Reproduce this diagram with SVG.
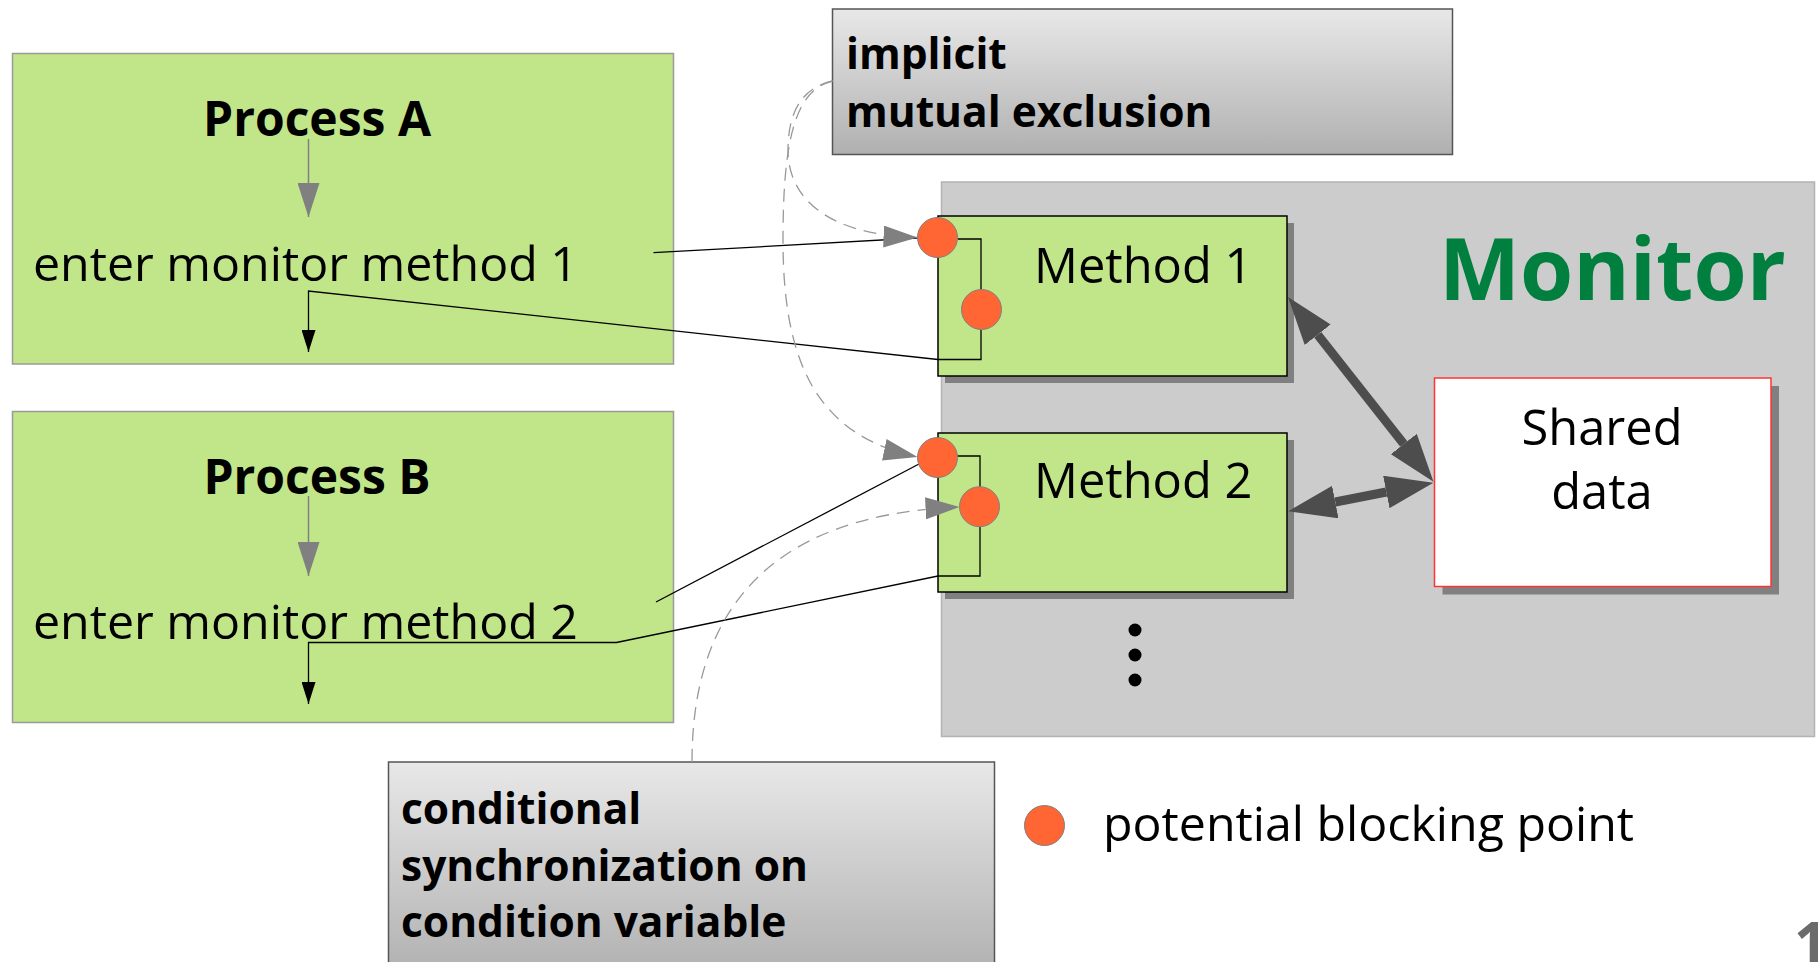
<svg xmlns="http://www.w3.org/2000/svg" width="1818" height="962" viewBox="0 0 1818 962">
<defs>
<style>
.proc{fill:#c1e589;stroke:#9a9a9a;stroke-width:1.5}
.meth{fill:#c1e589;stroke:#000;stroke-width:1.5}
.shadow{fill:#808080}
.note{fill:url(#noteGrad);stroke:#555;stroke-width:1.5}
.t{font-family:"Open Sans","Noto Sans","DejaVu Sans",sans-serif;fill:#000}
.big{font-size:48.3px}
.mt{font-size:48.8px}
.pt{font-size:48px;font-weight:bold}
.bold{font-weight:bold}
.nt{font-size:42.5px;font-weight:bold}
.bp{fill:#ff6633;stroke:#808080;stroke-width:1}
.thin{fill:none;stroke:#000;stroke-width:1.3}
.dash{fill:none;stroke:#999;stroke-width:1.3;stroke-dasharray:13 8}
.gray{fill:none;stroke:#808080;stroke-width:1.5}
.thick{fill:none;stroke:#4d4d4d;stroke-width:9}
</style>
<linearGradient id="noteGrad" x1="0" y1="0" x2="0" y2="1">
<stop offset="0" stop-color="#e8e8e8"/>
<stop offset="1" stop-color="#b0b0b0"/>
</linearGradient>
<marker id="grayHead" markerUnits="userSpaceOnUse" markerWidth="34" markerHeight="22" viewBox="0 0 34 22" refX="34" refY="11" orient="auto">
<path d="M0,0 L34,11 L0,22 z" fill="#808080"/>
</marker>
<marker id="blackHead" markerUnits="userSpaceOnUse" markerWidth="22" markerHeight="14" viewBox="0 0 22 14" refX="22" refY="7" orient="auto">
<path d="M0,0 L22,7 L0,14 z" fill="#000"/>
</marker>
<marker id="thickHead" markerUnits="userSpaceOnUse" markerWidth="48" markerHeight="33" viewBox="0 0 48 33" refX="0" refY="16.5" orient="auto-start-reverse">
<path d="M0,0 L48,16.5 L0,33 z" fill="#4d4d4d"/>
</marker>
</defs>
<rect width="1818" height="962" fill="#fff"/>

<g id="monitor">
<rect x="941.5" y="182" width="873" height="554.5" fill="#cccccc" stroke="#b3b3b3" stroke-width="1.5"/>
<text class="t bold" x="1439" y="299.5" font-size="86" style="fill:#007f3f">Monitor</text>
<circle cx="1135" cy="630" r="6.5" fill="#000"/>
<circle cx="1135" cy="655" r="6.5" fill="#000"/>
<circle cx="1135" cy="680" r="6.5" fill="#000"/>
</g>

<g id="process-a">
<rect class="proc" x="12.5" y="53.5" width="661" height="310.5"/>
<text class="t pt" x="317" y="136" text-anchor="middle">Process A</text>
<text class="t big" x="33" y="280.5">enter monitor method 1</text>
</g>

<g id="process-b">
<rect class="proc" x="12.5" y="411.5" width="661" height="311"/>
<text class="t pt" x="317" y="494" text-anchor="middle">Process B</text>
<text class="t big" x="33" y="638.5">enter monitor method 2</text>
</g>

<g id="method-1">
<rect class="shadow" x="945" y="223" width="349" height="160"/>
<rect class="meth" x="938" y="216" width="349" height="160"/>
<text class="t mt" x="1034" y="283">Method 1</text>
</g>

<g id="method-2">
<rect class="shadow" x="945" y="440" width="349" height="159"/>
<rect class="meth" x="938" y="433" width="349" height="159"/>
<text class="t mt" x="1034" y="498">Method 2</text>
</g>

<g id="shared-data">
<rect class="shadow" x="1442.5" y="386" width="336.5" height="208.5"/>
<rect x="1434.5" y="378" width="336.5" height="208.5" fill="#fff" stroke="#ff3333" stroke-width="1.5"/>
<text class="t mt" x="1602" y="445" text-anchor="middle">Shared</text>
<text class="t mt" x="1602" y="509" text-anchor="middle">data</text>
</g>

<g id="note-implicit">
<rect class="note" x="832.5" y="9" width="620" height="145.5"/>
<text class="t nt" x="846" y="69">implicit</text>
<text class="t nt" x="846" y="126.5">mutual exclusion</text>
</g>

<g id="note-conditional">
<rect class="note" x="388.5" y="762" width="606" height="215"/>
<text class="t nt" x="401" y="824">conditional</text>
<text class="t nt" x="401" y="880.5">synchronization on</text>
<text class="t nt" x="401" y="937">condition variable</text>
</g>

<g id="legend">
<circle class="bp" cx="1044.5" cy="825.5" r="20"/>
<text class="t big" x="1103" y="840.5">potential blocking point</text>
</g>

<g id="page-number">
<text class="t bold" x="1794" y="966" font-size="60" style="fill:#6b6b6b">1</text>
</g>

<g id="connectors">
<path class="gray" d="M308.5,139 V217" marker-end="url(#grayHead)"/>
<path class="gray" d="M308.5,496 V576" marker-end="url(#grayHead)"/>
<path class="thin" d="M653.5,252.7 L917.6,238"/>
<path class="thin" d="M957.5,239 H981 V289.5 M981,329.5 V359.5 H938 L308.5,291 V352" marker-end="url(#blackHead)"/>
<path class="thin" d="M656,602 L919,464"/>
<path class="thin" d="M957.5,456 H980 V486.7 M980,526.7 V576 H938 L616.5,642.5 H308.5 V704" marker-end="url(#blackHead)"/>
<path class="dash" d="M832.5,81 C800,88 788,115 788,150 C788,200 830,235 917.5,237.5" marker-end="url(#grayHead)"/>
<path class="dash" d="M832.5,81 C795,90 783,140 783,240 C783,360 815,435 917.5,457" marker-end="url(#grayHead)"/>
<path class="dash" d="M692,762 C692,620 760,515 959.5,507" marker-end="url(#grayHead)"/>
<path class="thick" d="M1317.7,334.7 L1403.8,444" marker-start="url(#thickHead)" marker-end="url(#thickHead)"/>
<path class="thick" d="M1335.3,502 L1386.3,492" marker-start="url(#thickHead)" marker-end="url(#thickHead)"/>
</g>

<g id="blocking-points">
<circle id="bp-m1-entry" class="bp" cx="937.5" cy="237.5" r="20"/>
<circle id="bp-m1-cond" class="bp" cx="981.5" cy="309.5" r="20"/>
<circle id="bp-m2-entry" class="bp" cx="937.5" cy="457.5" r="20"/>
<circle id="bp-m2-cond" class="bp" cx="979.5" cy="506.7" r="20"/>
</g>
</svg>
